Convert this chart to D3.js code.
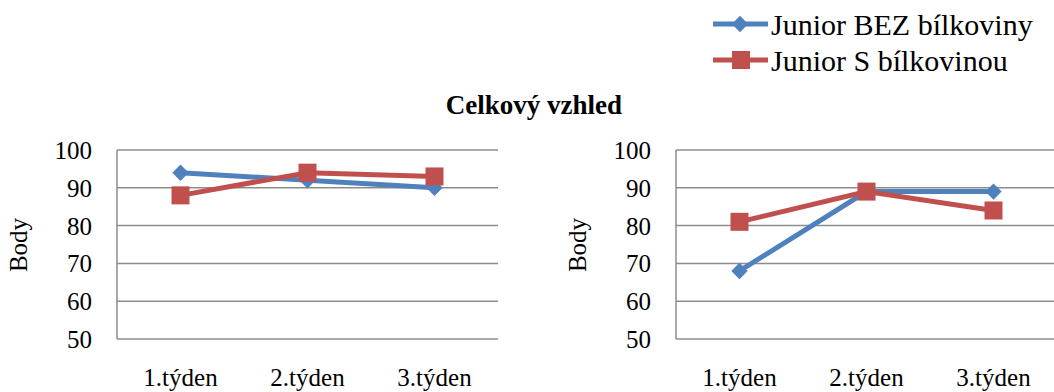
<!DOCTYPE html>
<html>
<head>
<meta charset="utf-8">
<script src="https://cdn.jsdelivr.net/npm/d3@7"></script>
<style>
  body { margin: 0; background: #fff; }
</style>
</head>
<body>
<svg id="chart" width="1054" height="392"></svg>
<script>
// data
const weeks = ["1.týden", "2.týden", "3.týden"];
const seriesNames = ["Junior BEZ bílkoviny", "Junior S bílkovinou"];
const leftBez = [94, 92, 90];
const leftS = [88, 94, 93];
const rightBez = [68, 89, 89];
const rightS = [81, 89, 84];
const yTicks = [50, 60, 70, 80, 90, 100];

const blue = "#4F81BD";
const red = "#C0504D";
const gridColor = "#8c8c8c";
const font = "Liberation Serif, DejaVu Serif, Times, serif";

const svg = d3.select("#chart").style("font-family", font);

const y = d3.scaleLinear().domain([50, 100]).range([339, 150]);

// one panel (axis, grid, two series)
function panel(x0, x1, bez, s) {
  const x = d3.scaleBand().domain(weeks).range([x0, x1]);
  const g = svg.append("g");

  // gridlines
  g.selectAll("line.grid")
    .data(yTicks)
    .enter().append("line")
    .attr("x1", x0).attr("x2", x1)
    .attr("y1", d => y(d)).attr("y2", d => y(d))
    .attr("stroke", gridColor).attr("stroke-width", 1.5);

  // vertical axis line
  g.append("line")
    .attr("x1", x0).attr("x2", x0)
    .attr("y1", y(100)).attr("y2", y(50))
    .attr("stroke", gridColor).attr("stroke-width", 1.5);

  // y labels
  g.selectAll("text.yt")
    .data(yTicks)
    .enter().append("text")
    .attr("x", x0 - 25)
    .attr("y", d => y(d) + 9)
    .attr("text-anchor", "end")
    .attr("font-size", 25)
    .text(d => d);

  // x labels
  g.selectAll("text.xt")
    .data(weeks)
    .enter().append("text")
    .attr("x", d => x(d) + x.bandwidth() / 2)
    .attr("y", 386)
    .attr("text-anchor", "middle")
    .attr("font-size", 25)
    .text(d => d);

  // axis title
  g.append("text")
    .attr("transform", `translate(${x0 - 90},245) rotate(-90)`)
    .attr("text-anchor", "middle")
    .attr("font-size", 25)
    .text("Body");

  const line = d3.line()
    .x((d, i) => x(weeks[i]) + x.bandwidth() / 2)
    .y(d => y(d));

  // blue series
  g.append("path").datum(bez)
    .attr("d", line)
    .attr("fill", "none").attr("stroke", blue).attr("stroke-width", 5);
  g.selectAll("path.dia")
    .data(bez)
    .enter().append("path")
    .attr("transform", (d, i) => `translate(${x(weeks[i]) + x.bandwidth() / 2},${y(d)}) rotate(45)`)
    .attr("d", "M-5.8,-5.8H5.8V5.8H-5.8Z")
    .attr("fill", blue);

  // red series
  g.append("path").datum(s)
    .attr("d", line)
    .attr("fill", "none").attr("stroke", red).attr("stroke-width", 5);
  g.selectAll("rect.sq")
    .data(s)
    .enter().append("rect")
    .attr("x", (d, i) => x(weeks[i]) + x.bandwidth() / 2 - 9)
    .attr("y", d => y(d) - 9)
    .attr("width", 18).attr("height", 18)
    .attr("fill", red);
}

panel(117, 498, leftBez, leftS);
panel(676, 1057, rightBez, rightS);

// title
svg.append("text")
  .attr("x", 534).attr("y", 114)
  .attr("text-anchor", "middle")
  .attr("font-size", 27)
  .attr("font-weight", "bold")
  .text("Celkový vzhled");

// legend
const legend = svg.append("g");
const legendY = [24, 60];
seriesNames.forEach((name, i) => {
  const col = i === 0 ? blue : red;
  legend.append("line")
    .attr("x1", 713).attr("x2", 768)
    .attr("y1", legendY[i]).attr("y2", legendY[i])
    .attr("stroke", col).attr("stroke-width", 5);
  if (i === 0) {
    legend.append("path")
      .attr("transform", `translate(740,${legendY[i]}) rotate(45)`)
      .attr("d", "M-5.8,-5.8H5.8V5.8H-5.8Z")
      .attr("fill", blue);
  } else {
    legend.append("rect")
      .attr("x", 732).attr("y", legendY[i] - 9)
      .attr("width", 18).attr("height", 18)
      .attr("fill", red);
  }
  legend.append("text")
    .attr("x", 771).attr("y", legendY[i] + 11)
    .attr("font-size", 30)
    .text(name);
});
</script>
</body>
</html>
